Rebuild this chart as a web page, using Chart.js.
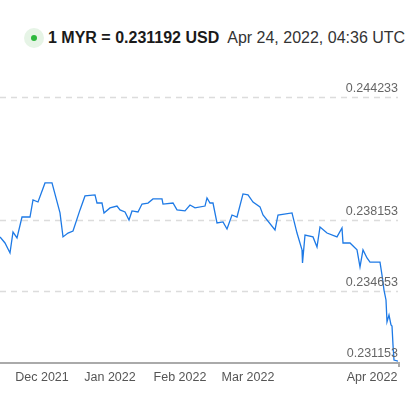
<!DOCTYPE html>
<html><head><meta charset="utf-8">
<script src="https://cdn.jsdelivr.net/npm/chart.js@4"></script>
<style>
html,body{margin:0;padding:0;background:#fff;width:419px;height:401px;overflow:hidden;font-family:"Liberation Sans",Arial,sans-serif}
#hdr{position:absolute;left:24px;top:28px;height:20px;display:flex;align-items:center;white-space:nowrap}
#dot{width:20px;height:20px;border-radius:50%;background:#e6f4e6;display:flex;align-items:center;justify-content:center;margin-right:4px}
#dot i{width:6px;height:6px;border-radius:50%;background:#2db83d;display:block}
#b{font-weight:bold;font-size:16px;color:#1a1a1a;margin-right:8px}
#t{font-size:16px;color:#333}
#c{position:absolute;left:0;top:0}
</style></head><body>
<div id="hdr"><div id="dot"><i></i></div><span id="b">1 MYR = 0.231192 USD</span><span id="t">Apr 24, 2022, 04:36 UTC</span></div>
<canvas id="c" width="419" height="401"></canvas>
<script>
const xPos = [0,5,10,13,17,22,30,33,38,45,52,60,63,68,73,80,85,95,97,102,104,110,117,120,125,129,132,138,142,148,153,162,163,173,177,185,190,195,205,207,210,213,217,223,227,232,237,243,248,253,260,263,275,278,292,297,302,302.5,305,313,317,320,327,337,342,343,350,357,360,363,367,370,380,382,384,386,387,389,391,392,393,394,398];
const rates = [0.23732,0.23702,0.23653,0.23756,0.23727,0.23830,0.23830,0.23914,0.23904,0.23998,0.23998,0.23850,0.23732,0.23751,0.23761,0.23865,0.23934,0.23939,0.23899,0.23899,0.23850,0.23875,0.23884,0.23865,0.23855,0.23815,0.23860,0.23855,0.23894,0.23899,0.23919,0.23919,0.23894,0.23899,0.23865,0.23860,0.23889,0.23875,0.23884,0.23924,0.23899,0.23899,0.23801,0.23806,0.23771,0.23840,0.23830,0.23944,0.23939,0.23904,0.23880,0.23840,0.23766,0.23840,0.23850,0.23751,0.23668,0.23603,0.23741,0.23732,0.23682,0.23781,0.23751,0.23732,0.23776,0.23702,0.23702,0.23668,0.23584,0.23668,0.23628,0.23608,0.23608,0.23544,0.23470,0.23421,0.23313,0.23347,0.23298,0.23293,0.23199,0.23125,0.23120];
const yTicks = [0.231153,0.234653,0.238153,0.244233];
const xTickPos = [42,110,180,248,372];
const xTickLabels = ['Dec 2021','Jan 2022','Feb 2022','Mar 2022','Apr 2022'];

const deco = {
  id:'deco',
  beforeDatasetsDraw(ch){
    const c=ch.ctx,a=ch.chartArea,ys=ch.scales.y;
    c.save();
    c.strokeStyle='#dcdcdc';c.lineWidth=1.5;c.setLineDash([6,5]);
    yTicks.slice(1).forEach(v=>{const y=Math.round(ys.getPixelForValue(v))+0.5;c.beginPath();c.moveTo(0,y);c.lineTo(a.right,y);c.stroke();});
    c.setLineDash([]);
    c.strokeStyle='#aaa';c.lineWidth=2;
    const yb=ys.getPixelForValue(yTicks[0]);
    c.beginPath();c.moveTo(0,yb+1);c.lineTo(a.right+2,yb+1);c.stroke();
    c.beginPath();c.moveTo(a.right+1,yb);c.lineTo(a.right+1,yb+5);c.stroke();
    c.restore();
  },
  afterDatasetsDraw(ch){
    const c=ch.ctx,a=ch.chartArea,ys=ch.scales.y,xs=ch.scales.x;
    c.save();
    c.font='12.5px "Liberation Sans", Arial, sans-serif';
    c.fillStyle='#666';c.textAlign='right';c.textBaseline='bottom';
    yTicks.forEach(v=>{c.fillText(v.toFixed(6),a.right,ys.getPixelForValue(v)-2);});
    c.fillStyle='#555';c.textAlign='center';c.textBaseline='middle';
    xTickPos.forEach((p,i)=>c.fillText(xTickLabels[i],xs.getPixelForValue(p),378));
    c.restore();
  }
};

new Chart(document.getElementById('c'),{
  type:'line',
  data:{datasets:[{data:xPos.map((x,i)=>({x,y:rates[i]})),borderColor:'#1e7ae6',borderWidth:1.3,pointRadius:0,tension:0,fill:false}]},
  options:{responsive:false,animation:false,
    layout:{padding:{left:0,right:21,top:60,bottom:39}},
    plugins:{legend:{display:false},tooltip:{enabled:false}},
    scales:{
      x:{type:'linear',min:0,max:398,display:false},
      y:{min:0.231153,max:0.24604,display:false}
    }},
  plugins:[deco]
});
</script></body></html>
